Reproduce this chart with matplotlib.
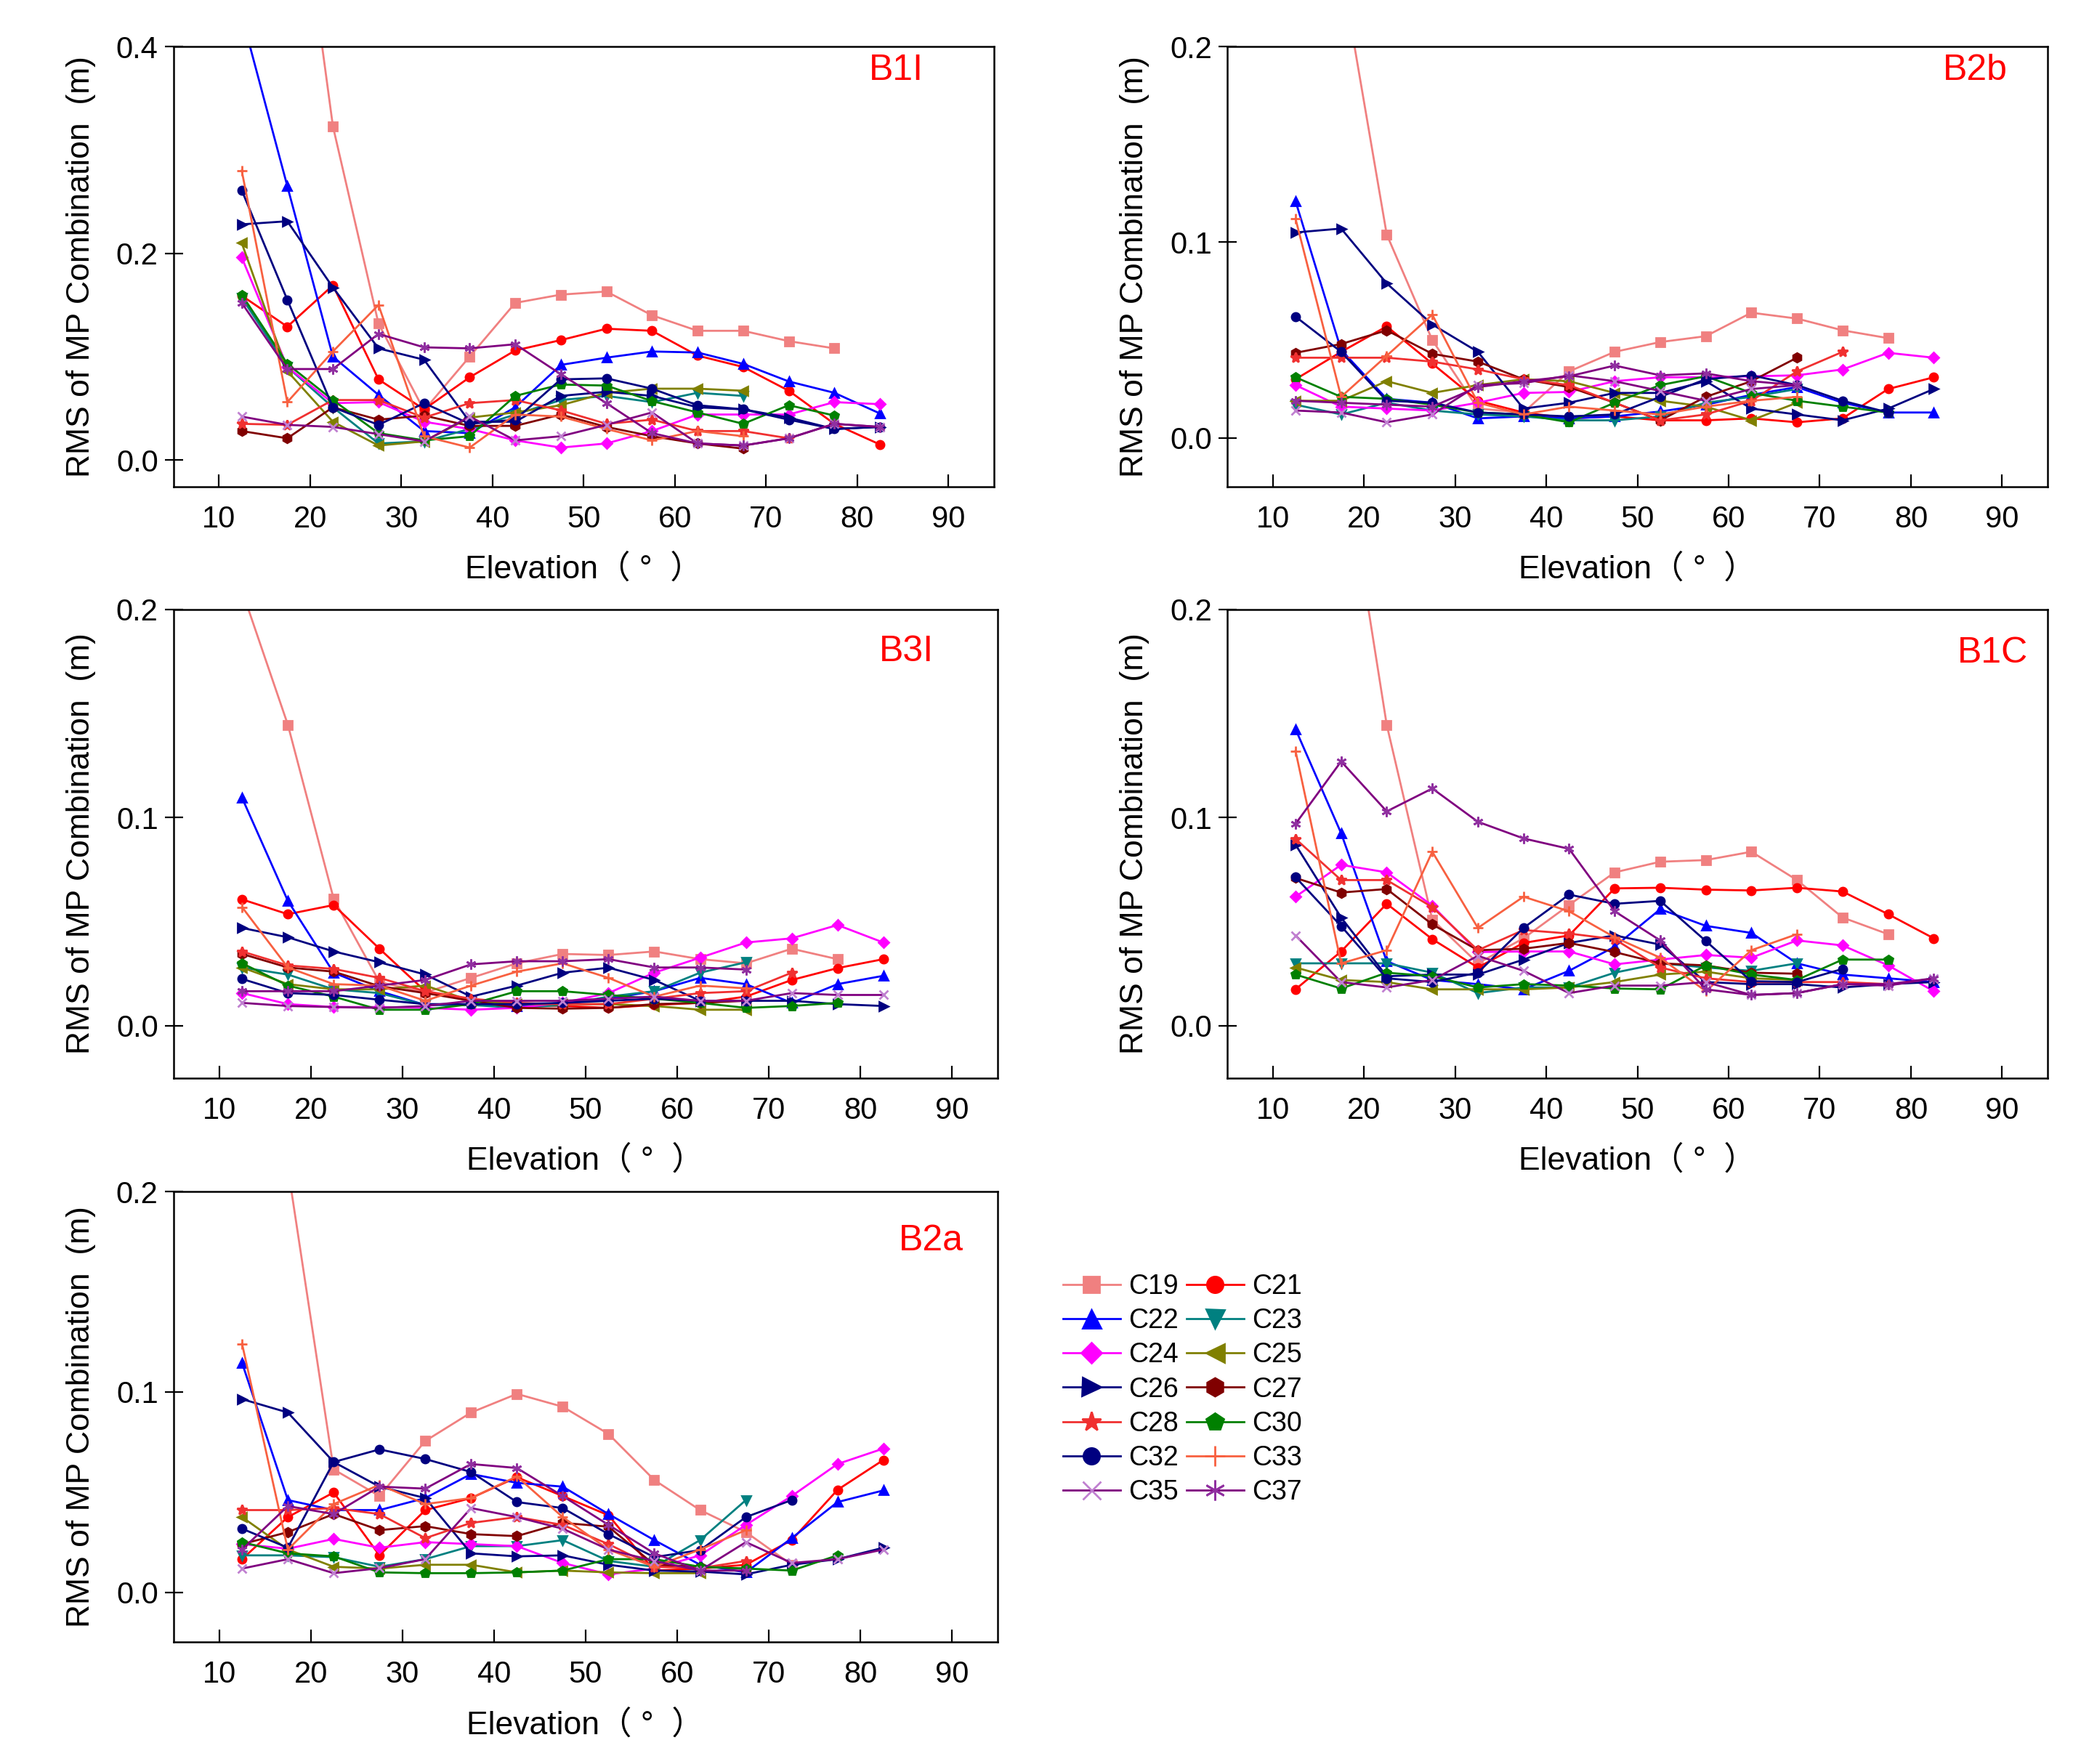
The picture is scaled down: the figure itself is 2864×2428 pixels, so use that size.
import numpy as np
import matplotlib
matplotlib.use("Agg")
import matplotlib.pyplot as plt

plt.rcParams["font.family"] = ["Liberation Sans", "Noto Sans CJK SC", "DejaVu Sans"]

nan = np.nan

# elevation bin centres
elev = [12.5, 17.5, 22.5, 27.5, 32.5, 37.5, 42.5, 47.5, 52.5, 57.5, 62.5, 67.5, 72.5, 77.5, 82.5]

sats = ["C19", "C21", "C22", "C23", "C24", "C25", "C26",
        "C27", "C28", "C30", "C32", "C33", "C35", "C37"]

# RMS of MP combination (m)
b1i = {
    "C19": [0.90, 0.65, 0.323, 0.132, 0.048, 0.100, 0.152, 0.160, 0.163, 0.140, 0.125, 0.125, 0.115, 0.108, nan],
    "C21": [0.159, 0.129, 0.169, 0.078, 0.049, 0.080, 0.106, 0.116, 0.127, 0.125, 0.101, 0.090, 0.067, 0.035, 0.015],
    "C22": [0.43, 0.265, 0.100, 0.063, 0.028, 0.026, 0.051, 0.092, 0.099, 0.105, 0.104, 0.093, 0.076, 0.065, 0.045],
    "C23": [0.157, 0.090, 0.051, 0.016, 0.018, 0.030, 0.044, 0.058, 0.062, 0.056, 0.065, 0.062, nan, nan, nan],
    "C24": [0.196, 0.090, 0.055, 0.056, 0.037, 0.030, 0.019, 0.012, 0.016, 0.028, 0.044, 0.044, 0.044, 0.056, 0.054],
    "C25": [0.210, 0.086, 0.037, 0.014, 0.018, 0.041, 0.046, 0.053, 0.065, 0.069, 0.069, 0.067, nan, nan, nan],
    "C26": [0.228, 0.231, 0.167, 0.108, 0.097, 0.037, 0.037, 0.062, 0.066, 0.062, 0.051, 0.049, 0.041, 0.030, 0.032],
    "C27": [0.028, 0.021, 0.051, 0.039, 0.043, 0.033, 0.033, 0.044, 0.032, 0.023, 0.016, 0.011, nan, nan, nan],
    "C28": [0.035, 0.034, 0.058, 0.058, 0.041, 0.055, 0.058, 0.048, 0.035, 0.039, 0.028, 0.028, 0.021, nan, nan],
    "C30": [0.160, 0.093, 0.058, 0.026, 0.019, 0.023, 0.062, 0.073, 0.072, 0.057, 0.046, 0.035, 0.053, 0.043, nan],
    "C32": [0.261, 0.155, 0.051, 0.034, 0.055, 0.035, 0.039, 0.078, 0.079, 0.069, 0.053, 0.049, 0.039, 0.030, 0.032],
    "C33": [0.280, 0.056, 0.105, 0.150, 0.023, 0.012, 0.044, 0.042, 0.030, 0.019, 0.028, 0.023, nan, nan, nan],
    "C35": [0.042, 0.034, 0.032, 0.025, 0.018, 0.042, 0.019, 0.023, 0.034, 0.046, 0.016, 0.014, 0.021, 0.035, 0.032],
    "C37": [0.152, 0.088, 0.088, 0.122, 0.109, 0.108, 0.112, 0.083, 0.055, 0.026, 0.016, 0.014, 0.021, 0.035, 0.032],
}

b2b = {
    "C19": [0.40, 0.24, 0.104, 0.050, 0.015, 0.013, 0.034, 0.044, 0.049, 0.052, 0.064, 0.061, 0.055, 0.051, nan],
    "C21": [0.030, 0.044, 0.057, 0.038, 0.019, 0.013, 0.010, 0.011, 0.009, 0.009, 0.010, 0.008, 0.010, 0.025, 0.031],
    "C22": [0.121, 0.045, 0.020, 0.018, 0.010, 0.011, 0.010, 0.011, 0.0135, 0.017, 0.022, 0.026, 0.018, 0.013, 0.013],
    "C23": [0.017, 0.012, 0.018, 0.014, 0.012, 0.011, 0.009, 0.009, 0.011, 0.018, 0.021, 0.025, nan, nan, nan],
    "C24": [0.027, 0.016, 0.015, 0.014, 0.018, 0.023, 0.0235, 0.029, 0.031, 0.031, 0.0315, 0.032, 0.035, 0.0435, 0.041],
    "C25": [0.019, 0.019, 0.029, 0.023, 0.027, 0.030, 0.029, 0.023, 0.019, 0.016, 0.009, 0.018, nan, nan, nan],
    "C26": [0.105, 0.107, 0.079, 0.058, 0.044, 0.015, 0.018, 0.023, 0.023, 0.029, 0.015, 0.012, 0.009, 0.015, 0.025],
    "C27": [0.0435, 0.048, 0.055, 0.043, 0.039, 0.030, 0.026, 0.018, 0.009, 0.021, 0.029, 0.041, nan, nan, nan],
    "C28": [0.041, 0.041, 0.041, 0.039, 0.035, 0.030, 0.027, 0.018, 0.009, 0.012, 0.019, 0.034, 0.044, nan, nan],
    "C30": [0.031, 0.021, 0.020, 0.017, 0.013, 0.012, 0.008, 0.018, 0.027, 0.0315, 0.023, 0.019, 0.016, 0.013, nan],
    "C32": [0.062, 0.044, 0.019, 0.018, 0.013, 0.012, 0.011, 0.012, 0.021, 0.030, 0.032, 0.027, 0.019, 0.013, nan],
    "C33": [0.112, 0.021, 0.042, 0.063, 0.018, 0.012, 0.016, 0.014, 0.012, 0.016, 0.019, 0.021, nan, nan, nan],
    "C35": [0.014, 0.013, 0.008, 0.012, 0.027, 0.028, 0.032, 0.029, 0.024, 0.019, 0.025, 0.027, nan, nan, nan],
    "C37": [0.019, 0.018, 0.017, 0.016, 0.026, 0.029, 0.0315, 0.037, 0.032, 0.033, 0.029, 0.027, nan, nan, nan],
}

b3i = {
    "C19": [0.209, 0.1446, 0.061, 0.021, 0.016, 0.023, 0.030, 0.0345, 0.034, 0.0357, 0.032, 0.030, 0.037, 0.032, nan],
    "C21": [0.0607, 0.0536, 0.058, 0.037, 0.0166, 0.012, 0.010, 0.0095, 0.0086, 0.010, 0.011, 0.014, 0.022, 0.0277, 0.032],
    "C22": [0.1095, 0.060, 0.0255, 0.0166, 0.010, 0.010, 0.0095, 0.011, 0.013, 0.0166, 0.023, 0.020, 0.011, 0.020, 0.024],
    "C23": [0.028, 0.0246, 0.0175, 0.0157, 0.010, 0.010, 0.0086, 0.010, 0.014, 0.0166, 0.0255, 0.0305, nan, nan, nan],
    "C24": [0.0157, 0.0104, 0.009, 0.009, 0.0086, 0.0077, 0.0086, 0.011, 0.0157, 0.0255, 0.0327, 0.040, 0.042, 0.0484, 0.040],
    "C25": [0.028, 0.020, 0.0175, 0.0175, 0.0193, 0.012, 0.0104, 0.0104, 0.0104, 0.0095, 0.0077, 0.0077, nan, nan, nan],
    "C26": [0.047, 0.0425, 0.0357, 0.0305, 0.0246, 0.014, 0.0193, 0.0255, 0.0279, 0.022, 0.012, 0.012, 0.012, 0.0104, 0.0095],
    "C27": [0.0345, 0.028, 0.026, 0.019, 0.0157, 0.012, 0.0086, 0.0082, 0.0086, 0.0104, 0.011, 0.012, nan, nan, nan],
    "C28": [0.0357, 0.029, 0.0273, 0.023, 0.0166, 0.013, 0.011, 0.0104, 0.0104, 0.013, 0.0157, 0.0166, 0.0255, nan, nan],
    "C30": [0.030, 0.0193, 0.014, 0.0077, 0.0077, 0.0104, 0.0166, 0.0166, 0.0148, 0.013, 0.011, 0.0086, 0.0095, 0.011, nan],
    "C32": [0.0225, 0.0157, 0.0148, 0.0125, 0.0104, 0.0104, 0.0104, 0.011, 0.012, 0.013, 0.012, 0.012, nan, nan, nan],
    "C33": [0.057, 0.028, 0.020, 0.0193, 0.012, 0.0193, 0.026, 0.030, 0.023, 0.014, 0.0193, 0.018, nan, nan, nan],
    "C35": [0.011, 0.0095, 0.009, 0.0086, 0.0095, 0.012, 0.012, 0.012, 0.013, 0.014, 0.012, 0.012, 0.0157, 0.0148, 0.0148],
    "C37": [0.0166, 0.0166, 0.0166, 0.0193, 0.022, 0.0295, 0.031, 0.031, 0.032, 0.028, 0.028, 0.027, nan, nan, nan],
}

b1c = {
    "C19": [0.45, 0.283, 0.1446, 0.051, 0.030, 0.042, 0.058, 0.0737, 0.0788, 0.0796, 0.0836, 0.070, 0.052, 0.044, nan],
    "C21": [0.0175, 0.0357, 0.0586, 0.0416, 0.028, 0.0398, 0.0434, 0.066, 0.0663, 0.0654, 0.065, 0.0663, 0.0645, 0.0536, 0.042],
    "C22": [0.1425, 0.0925, 0.031, 0.022, 0.020, 0.0175, 0.0264, 0.038, 0.056, 0.048, 0.0446, 0.030, 0.0246, 0.0228, 0.021],
    "C23": [0.030, 0.030, 0.030, 0.0255, 0.0157, 0.0184, 0.0184, 0.0255, 0.030, 0.028, 0.0264, 0.030, nan, nan, nan],
    "C24": [0.062, 0.0773, 0.0737, 0.0577, 0.0354, 0.0357, 0.0357, 0.0295, 0.0318, 0.034, 0.0327, 0.041, 0.0386, 0.029, 0.0166],
    "C25": [0.028, 0.022, 0.021, 0.0175, 0.0175, 0.0175, 0.0184, 0.021, 0.0246, 0.026, 0.0228, 0.022, nan, nan, nan],
    "C26": [0.087, 0.052, 0.0238, 0.0246, 0.0246, 0.0318, 0.0398, 0.0434, 0.039, 0.021, 0.020, 0.020, 0.0184, 0.020, 0.021],
    "C27": [0.071, 0.064, 0.0657, 0.0487, 0.0363, 0.037, 0.0398, 0.0354, 0.030, 0.029, 0.0255, 0.025, nan, nan, nan],
    "C28": [0.0898, 0.070, 0.070, 0.057, 0.0363, 0.046, 0.0443, 0.0416, 0.028, 0.0228, 0.021, 0.021, 0.021, 0.020, nan],
    "C30": [0.0246, 0.0179, 0.0255, 0.0238, 0.0184, 0.020, 0.0193, 0.0179, 0.0175, 0.029, 0.0246, 0.022, 0.0318, 0.0318, nan],
    "C32": [0.0714, 0.0479, 0.0228, 0.021, 0.0255, 0.047, 0.063, 0.0586, 0.060, 0.0407, 0.0214, 0.021, 0.0273, nan, nan],
    "C33": [0.132, 0.030, 0.0363, 0.0836, 0.047, 0.062, 0.055, 0.0425, 0.0327, 0.0166, 0.0363, 0.044, nan, nan, nan],
    "C35": [0.0434, 0.021, 0.0184, 0.022, 0.0336, 0.0264, 0.0157, 0.0193, 0.0193, 0.021, 0.0148, 0.0157, 0.020, 0.0193, 0.0228],
    "C37": [0.097, 0.127, 0.103, 0.114, 0.098, 0.090, 0.085, 0.055, 0.041, 0.0175, 0.0148, 0.0157, 0.020, 0.020, 0.0228],
}

b2a = {
    "C19": [0.35, 0.212, 0.0613, 0.048, 0.0755, 0.0897, 0.099, 0.0926, 0.079, 0.056, 0.041, 0.030, 0.0137, nan, nan],
    "C21": [0.0165, 0.0375, 0.0498, 0.0184, 0.041, 0.047, 0.0574, 0.048, 0.0384, 0.0108, 0.0118, 0.0137, 0.026, 0.0511, 0.066],
    "C22": [0.1145, 0.046, 0.041, 0.041, 0.047, 0.059, 0.0546, 0.0527, 0.039, 0.026, 0.0137, 0.0099, 0.027, 0.045, 0.0508],
    "C23": [0.0184, 0.0184, 0.0175, 0.0127, 0.0165, 0.023, 0.023, 0.026, 0.0156, 0.0127, 0.026, 0.046, nan, nan, nan],
    "C24": [0.024, 0.0217, 0.0266, 0.0222, 0.025, 0.024, 0.023, 0.0146, 0.0089, 0.0118, 0.0184, 0.0336, 0.048, 0.064, 0.0717],
    "C25": [0.0375, 0.0213, 0.0127, 0.0118, 0.0137, 0.0137, 0.0099, 0.0108, 0.0099, 0.0095, 0.0095, nan, nan, nan, nan],
    "C26": [0.0964, 0.0897, 0.065, 0.0527, 0.047, 0.0194, 0.0179, 0.0184, 0.0137, 0.0108, 0.0103, 0.0089, 0.0137, 0.0165, 0.0222],
    "C27": [0.024, 0.030, 0.039, 0.031, 0.033, 0.029, 0.028, 0.0346, 0.0327, 0.0137, 0.0127, 0.0118, nan, nan, nan],
    "C28": [0.041, 0.041, 0.042, 0.039, 0.027, 0.0346, 0.0375, 0.0336, 0.024, 0.0127, 0.012, 0.0156, nan, nan, nan],
    "C30": [0.025, 0.0194, 0.0179, 0.0099, 0.0095, 0.0095, 0.0099, 0.0108, 0.0165, 0.0165, 0.0127, 0.0118, 0.0108, 0.0184, nan],
    "C32": [0.0317, 0.0222, 0.065, 0.0713, 0.0665, 0.060, 0.045, 0.042, 0.029, 0.0175, 0.021, 0.0375, 0.046, nan, nan],
    "C33": [0.124, 0.0213, 0.044, 0.0536, 0.044, 0.047, 0.0578, 0.0375, 0.0213, 0.0127, 0.0213, 0.031, nan, nan, nan],
    "C35": [0.0118, 0.0165, 0.0095, 0.012, 0.0165, 0.042, 0.0375, 0.0317, 0.0213, 0.0156, 0.0108, 0.025, 0.0146, 0.0165, 0.0213],
    "C37": [0.0213, 0.043, 0.039, 0.0527, 0.0517, 0.064, 0.062, 0.048, 0.0336, 0.0194, 0.0108, 0.0108, nan, nan, nan],
}

# styles per satellite: (line colour, marker, marker colour, marker size)
styles = {
    "C19": ("#F08080", "s", "#F08080", 4),
    "C21": ("#FF0000", "o", "#FF0000", 4),
    "C22": ("#0000FF", "^", "#0000FF", 4.5),
    "C23": ("#008080", "v", "#008080", 4.5),
    "C24": ("#FF00FF", "D", "#FF00FF", 3.5),
    "C25": ("#808000", "<", "#808000", 4.5),
    "C26": ("#000080", ">", "#000080", 4.5),
    "C27": ("#800000", "h", "#800000", 4.5),
    "C28": ("#F03030", "*", "#F03030", 5),
    "C30": ("#008000", "p", "#008000", 4.5),
    "C32": ("#000080", "o", "#000080", 4),
    "C33": ("#F86040", "+", "#F86040", 5),
    "C35": ("#800080", "x", "#C080D0", 4.5),
    "C37": ("#800080", (6, 2, 0), "#9030A0", 5),
}

# panel name, data, y top, y ticks, axes rect, label position
panels = [
    ("B1I", b1i, 0.4, [0.0, 0.2, 0.4], [0.0833, 0.724, 0.3943, 0.2496], (0.914, 0.945)),
    ("B2b", b2b, 0.2, [0.0, 0.1, 0.2], [0.5897, 0.724, 0.3943, 0.2496], (0.951, 0.945)),
    ("B3I", b3i, 0.2, [0.0, 0.1, 0.2], [0.0833, 0.389, 0.3962, 0.2655], (0.922, 0.91)),
    ("B1C", b1c, 0.2, [0.0, 0.1, 0.2], [0.5897, 0.389, 0.3943, 0.2655], (0.976, 0.906)),
    ("B2a", b2a, 0.2, [0.0, 0.1, 0.2], [0.0833, 0.069, 0.3962, 0.2555], (0.958, 0.89)),
]

fig = plt.figure(figsize=(14.32, 12.14), dpi=200)

handles = []
for name, data, ytop, yticks, rect, lpos in panels:
    ax = fig.add_axes(rect)
    lines = []
    for s in sats:
        lc, mk, mc, ms = styles[s]
        ln, = ax.plot(elev, data[s], color=lc, lw=1.0, marker=mk, ms=ms,
                      mfc=mc, mec=mc, mew=1.0, label=s)
        lines.append(ln)
    if not handles:
        handles = lines
    ax.set_xlim(5, 95)
    ax.set_ylim(-0.125 * ytop if ytop == 0.2 else -0.026, ytop)
    ax.set_xticks(range(10, 91, 10))
    ax.set_yticks(yticks)
    ax.set_yticklabels([f"{v:.1f}" for v in yticks])
    ax.tick_params(axis="x", direction="in", length=6, width=0.8, labelsize=15, pad=9)
    ax.tick_params(axis="y", direction="inout", length=9, width=0.8, labelsize=15, pad=3)
    for sp in ax.spines.values():
        sp.set_linewidth(0.9)
    ax.set_xlabel("Elevation（ °  ）", fontsize=16, labelpad=10)
    ax.set_ylabel("RMS of MP Combination  (m)", fontsize=16, labelpad=10)
    ax.text(lpos[0], lpos[1], name, transform=ax.transAxes, ha="right", va="center",
            color="red", fontsize=18)

# legend laid out row by row, two columns
order = handles[0::2] + handles[1::2]
fig.legend(order, [h.get_label() for h in order], loc="upper left",
           bbox_to_anchor=(0.499, 0.292), ncol=2, frameon=False, fontsize=13.5,
           markerscale=2.0, handlelength=2.1, handletextpad=0.3,
           columnspacing=0.3, labelspacing=0.3)

fig.savefig("out.png", dpi=200, facecolor="white")
